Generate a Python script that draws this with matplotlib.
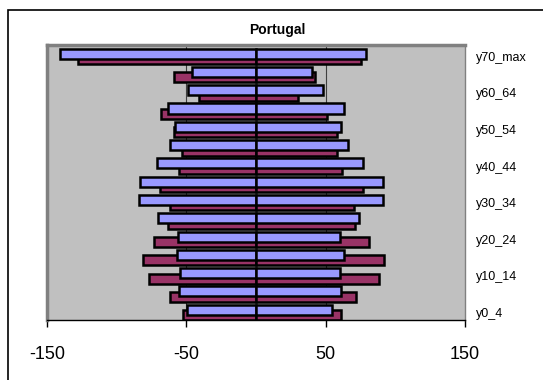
import numpy as np
import matplotlib
matplotlib.use("Agg")
import matplotlib.pyplot as plt
from matplotlib.patches import Rectangle

plt.rcParams['font.family'] = ['Liberation Sans', 'DejaVu Sans']

# age groups, bottom to top
ages = ['y0_4', 'y5_9', 'y10_14', 'y15_19', 'y20_24', 'y25_29', 'y30_34', 'y35_39',
        'y40_44', 'y45_49', 'y50_54', 'y55_59', 'y60_64', 'y65_69', 'y70_max']

# left side (negative), right side (positive); blue = front series, maroon = back series
blue_left = [-49.5, -55.5, -54.5, -57, -56, -70, -84, -83, -71, -62, -58, -63, -49, -46, -141]
maroon_left = [-52.6, -62, -77, -81, -73, -63, -62, -69, -55, -53, -59, -68, -41, -59, -128]
blue_right = [54.5, 61, 60.5, 63, 60, 73.6, 91, 91.4, 77, 66, 61, 63, 48, 40, 79]
maroon_right = [61, 72, 88, 92, 81, 70.7, 70, 77, 62, 58, 58, 51, 30, 42.6, 75]

xticks = [-150, -50, 50, 150]

BLUE = '#9999FF'
MAROON = '#993366'

fig = plt.figure(figsize=(5.43, 3.80), dpi=100)
ax = fig.add_axes([47/543, 1-320/380, 418/543, 275/380])
ax.set_facecolor('#C0C0C0')

y = np.arange(len(ages))
h = 0.55
off = 0.15
kw = dict(height=h, edgecolor='black', linewidth=1.8)
ax.barh(y - off, maroon_left, color=MAROON, zorder=2, **kw)
ax.barh(y - off, maroon_right, color=MAROON, zorder=2, **kw)
ax.barh(y + off, blue_left, color=BLUE, zorder=3, **kw)
ax.barh(y + off, blue_right, color=BLUE, zorder=3, **kw)

ax.set_xlim(-150, 150)
ax.set_ylim(-0.41, 14.62)
ax.set_xticks(xticks)
ax.set_xticklabels([str(t) for t in xticks], fontsize=13)
ax.tick_params(axis='x', direction='out', length=5, width=1, pad=14)
for g in [-50, 50]:
    ax.axvline(g, color='#404040', linewidth=0.8, zorder=1)

ax.yaxis.tick_right()
ax.set_yticks(y[::2])
ax.set_yticklabels(ages[::2], fontsize=9)
ax.tick_params(axis='y', length=0, pad=8)

for s in ['left', 'top']:
    ax.spines[s].set_color('#808080')
    ax.spines[s].set_linewidth(2.5)
ax.spines['right'].set_color('#808080')
ax.spines['right'].set_linewidth(1)
ax.spines['bottom'].set_color('black')
ax.spines['bottom'].set_linewidth(1)

fig.text(277/543, 1-30/380, 'Portugal', ha='center', va='center', fontsize=10, fontweight='bold')

# chart border
fig.patches.append(Rectangle((8/543, -0.2), 1.2, 0.2 + 1 - 10/380, transform=fig.transFigure,
                             fill=False, edgecolor='black', linewidth=1.2))

fig.savefig('out.png', dpi=100)
